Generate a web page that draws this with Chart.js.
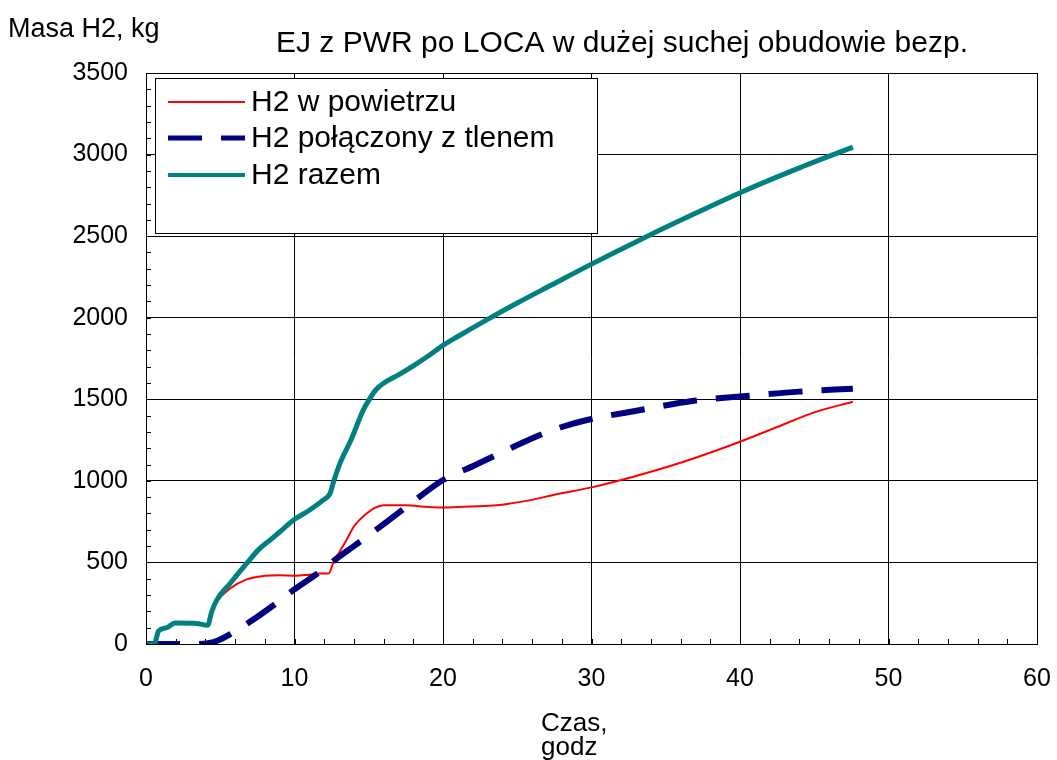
<!DOCTYPE html>
<html>
<head>
<meta charset="utf-8">
<script src="https://cdn.jsdelivr.net/npm/chart.js@4.4.1/dist/chart.umd.min.js"></script>
<style>
html,body{margin:0;padding:0;background:#fff;}
#wrap{width:1057px;height:760px;position:relative;}
</style>
</head>
<body>
<div id="wrap"><canvas id="c" width="1057" height="760"></canvas></div>
<script>
const chartTitle = 'EJ z PWR po LOCA w dużej suchej obudowie bezp.';
const yAxisTitle = 'Masa H2, kg';
const xAxisTitle = ['Czas,', 'godz'];
const seriesNames = ['H2 w powietrzu', 'H2 połączony z tlenem', 'H2 razem'];

const airX = [0,0.5,0.85,1.4,2,3.5,4.1,4.45,4.76,5.66,6.78,8,9,10,11,11.7,12.3,12.6,13,13.5,14,14.86,15.4,16,17.5,19,20,21,22.3,23.8,24.3,25.9,27.5,30,33,36.2,40,42.5,45,47.6];
const airY = [0,0,80,100,125,122,115,200,258,340,396,418,422,418,425,432,432,494,560,637,720,800,835,851,850,840,837,840,845,852,858,882,915,960,1030,1117,1240,1330,1420,1485];

const oxyX = [0,3.6,4.1,4.8,5.66,7,8.8,9.92,11.7,12.84,14,15.76,17.55,20,22,23.84,25.86,28,29.7,33.3,36.9,40.45,44,47.6];
const oxyY = [0,0,3,20,60,136,252,330,442,524,600,718,841,1005,1090,1169,1255,1330,1373,1434,1491,1520,1547,1565];

const totX = [0,0.55,0.85,1.4,1.95,3.4,4.15,4.42,4.76,5.66,6.78,7.6,8.35,9.02,10,11,11.9,12.4,12.6,13.06,13.8,14.63,15.08,15.5,16,17,18,19,20,21,22.94,25,27.3,29.9,33.7,37,40.2,43.5,47.6];
const totY = [0,0,80,100,128,126,115,197,269,371,494,580,637,688,764,820,880,923,985,1107,1250,1434,1506,1560,1598,1650,1705,1765,1830,1885,1987,2090,2200,2324,2497,2640,2774,2900,3046];

const xTicks = [0,10,20,30,40,50,60];
const yTicks = [0,500,1000,1500,2000,2500,3000,3500];

function pts(xs, ys){ return xs.map((x,i)=>({x:x, y:ys[i]})); }

const FONT = '"Liberation Sans", Arial, sans-serif';

const whiteBg = {
  id:'whiteBg',
  beforeDraw(chart){
    const c = chart.ctx; c.save(); c.fillStyle='#fff'; c.fillRect(0,0,chart.width,chart.height); c.restore();
  }
};

const minorTicks = {
  id:'minorTicks',
  afterDraw(chart){
    const c = chart.ctx, xs = chart.scales.x, ys = chart.scales.y, a = chart.chartArea;
    c.save(); c.strokeStyle='#000'; c.lineWidth=1;
    c.beginPath();
    for(let v=0; v<=60; v+=2){ const px=Math.round(xs.getPixelForValue(v))+0.5; c.moveTo(px,a.bottom); c.lineTo(px,a.bottom-5); }
    for(let v=0; v<=3500; v+=100){ const py=Math.round(ys.getPixelForValue(v))+0.5; c.moveTo(a.left,py); c.lineTo(a.left+5,py); }
    c.stroke(); c.restore();
  }
};

const texts = {
  id:'texts',
  afterDraw(chart){
    const c = chart.ctx; c.save(); c.fillStyle='#000'; c.textBaseline='alphabetic';
    c.font = '27px '+FONT; c.textAlign='left';
    c.fillText(yAxisTitle, 8, 37);
    c.font = '30px '+FONT; c.textAlign='center';
    c.fillText(chartTitle, 622, 52);
    c.font = '26px '+FONT; c.textAlign='left';
    c.fillText(xAxisTitle[0], 541, 731);
    c.fillText(xAxisTitle[1], 541, 755);
    c.restore();
  }
};

const boxLegend = {
  id:'boxLegend',
  afterDraw(chart){
    const c = chart.ctx; c.save();
    const L=155, T=78, R=597, B=233;
    c.fillStyle='#fff'; c.fillRect(L,T,R-L,B-T);
    c.strokeStyle='#000'; c.lineWidth=1; c.strokeRect(L+0.5,T+0.5,R-L,B-T);
    const rows=[102,138,175];
    chart.data.datasets.forEach((ds,i)=>{
      const y=rows[i];
      c.beginPath(); c.strokeStyle=ds.borderColor; c.lineWidth=ds.legendWidth; c.lineCap='butt';
      c.setLineDash(ds.borderDash||[]);
      c.moveTo(168,y); c.lineTo(245,y); c.stroke(); c.setLineDash([]);
      c.fillStyle='#000'; c.font='30px '+FONT; c.textAlign='left'; c.textBaseline='middle';
      c.fillText(ds.label, 251, y+1);
    });
    c.restore();
  }
};

new Chart(document.getElementById('c'), {
  type:'line',
  data:{
    datasets:[
      {label:seriesNames[0], data:pts(airX,airY), borderColor:'#ff0000', borderWidth:2, legendWidth:2, order:3},
      {label:seriesNames[1], data:pts(oxyX,oxyY), borderColor:'#000080', borderWidth:6, legendWidth:5, borderDash:[34,19], borderCapStyle:'butt', order:2},
      {label:seriesNames[2], data:pts(totX,totY), borderColor:'#008080', borderWidth:5, legendWidth:4, order:1}
    ]
  },
  options:{
    responsive:false, animation:false, devicePixelRatio:1,
    elements:{ point:{radius:0, hoverRadius:0}, line:{cubicInterpolationMode:'monotone', fill:false} },
    layout:{ padding:{left:0, right:20, top:73, bottom:0} },
    plugins:{ legend:{display:false}, title:{display:false}, tooltip:{enabled:false} },
    scales:{
      x:{
        type:'linear', min:0, max:60,
        afterBuildTicks(s){ s.ticks = xTicks.map(v=>({value:v})); },
        afterFit(s){ s.height = 116; s.paddingRight = 0; s.paddingLeft = 0; },
        grid:{ color:'#000', lineWidth:1, drawTicks:false },
        border:{ display:true, color:'#000', width:1 },
        ticks:{ color:'#000', font:{family:FONT, size:25}, padding:20, maxRotation:0, autoSkip:false, callback:(v)=>String(v) }
      },
      y:{
        type:'linear', min:0, max:3500,
        afterBuildTicks(s){ s.ticks = yTicks.map(v=>({value:v})); },
        afterFit(s){ s.width = 146; s.paddingTop = 0; s.paddingBottom = 0; },
        grid:{ color:'#000', lineWidth:1, drawTicks:false },
        border:{ display:true, color:'#000', width:1 },
        ticks:{ color:'#000', font:{family:FONT, size:25}, padding:18, autoSkip:false, callback:(v)=>String(v) }
      }
    }
  },
  plugins:[whiteBg, minorTicks, boxLegend, texts]
});
</script>
</body>
</html>
